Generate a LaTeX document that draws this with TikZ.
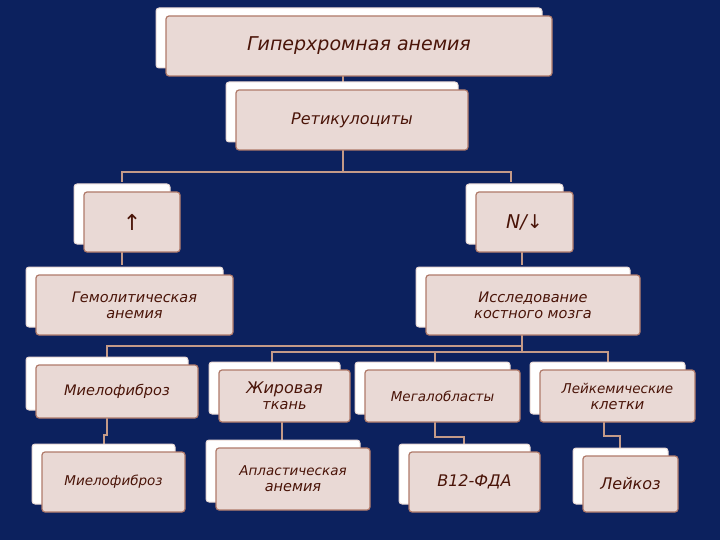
\documentclass[tikz,border=0pt]{standalone}
\usepackage{fontspec}
\setmainfont{DejaVu Sans}
\definecolor{bg}{HTML}{0C215E}
\definecolor{fr}{HTML}{E9D9D5}
\definecolor{bd}{HTML}{B07A6A}
\definecolor{tx}{HTML}{4A1408}
\definecolor{ln}{HTML}{C49A88}
\begin{document}
\begin{tikzpicture}[x=1pt,y=-1pt,
  back/.style={fill=white,draw=fr,rounded corners=3pt,line width=1pt},
  front/.style={fill=fr,draw=bd,rounded corners=3pt,line width=1.2pt},
  lbl/.style={text=tx,font=\itshape\fontsize{14.5}{16}\selectfont,align=center},
  conn/.style={draw=ln,line width=1.5pt}]
\fill[bg] (0,0) rectangle (720,540);
\useasboundingbox (0,0) rectangle (720,540);
\newcommand{\bx}[6]{%
  \fill[back] (#1-10,#2-8) rectangle (#3-10,#4-8);
  \draw[front] (#1,#2) rectangle (#3,#4);
  \node[lbl] (#5) at ({(#1+#3)/2},{(#2+#4)/2}) {#6};}
\draw[conn] (343,76) -- (343,90);
\draw[conn] (343,150) -- (343,172) (122,182) -- (122,172) -- (511,172) -- (511,182);
\draw[conn] (122,252) -- (122,265);
\draw[conn] (522,252) -- (522,265);
\draw[conn] (522,335) -- (522,352) (107,357) -- (107,346) -- (522,346);
\draw[conn] (272,362) -- (272,352) -- (608,352) -- (608,362) (435,352) -- (435,362);
\draw[conn] (107,418) -- (107,435) -- (104,435) -- (104,444);
\draw[conn] (282,422) -- (282,440);
\draw[conn] (435,422) -- (435,437) -- (464,437) -- (464,444);
\draw[conn] (604,422) -- (604,436) -- (620,436) -- (620,448);
\fill[back] (156,8) rectangle (542,68);
\draw[front] (166,16) rectangle (552,76);
\node[lbl,font=\itshape\fontsize{19}{20}\selectfont] (top) at (359,46) {Гиперхромная анемия};
\bx{236}{90}{468}{150}{ret}{\fontsize{16}{18}\selectfont Ретикулоциты}
\bx{84}{192}{180}{252}{up}{\fontsize{22}{22}\selectfont↑}
\bx{476}{192}{573}{252}{nd}{\fontsize{19}{20}\selectfont N/↓}
\bx{36}{275}{233}{335}{gem}{Гемолитическая\\анемия}
\bx{426}{275}{640}{335}{iss}{Исследование\\костного мозга}
\bx{36}{365}{198}{418}{mf1}{Миелофиброз}
\bx{219}{370}{350}{422}{fat}{\fontsize{16}{18}\selectfont Жировая\\ткань}
\bx{365}{370}{520}{422}{meg}{\fontsize{13.5}{15}\selectfont Мегалобласты}
\bx{540}{370}{695}{422}{lc}{\fontsize{13.5}{15}\selectfont Лейкемические\\клетки}
\bx{42}{452}{185}{512}{mf2}{\fontsize{13.5}{15}\selectfont Миелофиброз}
\bx{216}{448}{370}{510}{apl}{\fontsize{13.5}{15}\selectfont Апластическая\\анемия}
\bx{409}{452}{540}{512}{b12}{\fontsize{16}{18}\selectfont B12-ФДА}
\bx{583}{456}{678}{512}{lk}{\fontsize{16}{18}\selectfont Лейкоз}
\end{tikzpicture}
\end{document}
